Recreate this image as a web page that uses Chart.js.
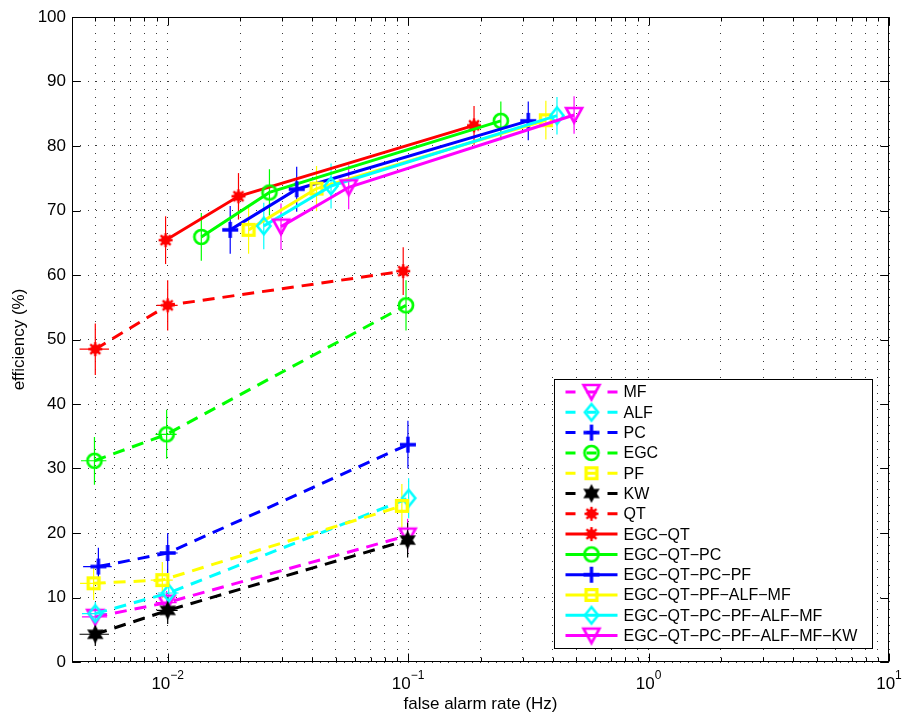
<!DOCTYPE html>
<html><head><meta charset="utf-8">
<script src="https://cdn.jsdelivr.net/npm/chart.js@4"></script>
<style>html,body{margin:0;padding:0;background:#fff}</style>
</head><body>
<canvas id="c" width="902" height="713"></canvas>
<script>
const FONT = '"Liberation Sans", Arial, Helvetica, sans-serif';

// ---------- data ----------
const seriesNames = ['MF','ALF','PC','EGC','PF','KW','QT',
  'EGC\u2212QT','EGC\u2212QT\u2212PC','EGC\u2212QT\u2212PC\u2212PF','EGC\u2212QT\u2212PF\u2212ALF\u2212MF',
  'EGC\u2212QT\u2212PC\u2212PF\u2212ALF\u2212MF','EGC\u2212QT\u2212PC\u2212PF\u2212ALF\u2212MF\u2212KW'];

const mfX  = [0.0050, 0.0099, 0.0995];
const mfY  = [7.0, 9.2, 19.6];
const mfErr = [1.6, 1.8, 2.6];
const mfXErr = [0.0006, 0.001, 0];

const alfX = [0.0050, 0.0101, 0.1005];
const alfY = [7.5, 10.7, 25.4];
const alfErr = [1.8, 2.0, 3.1];
const alfXErr = [0.0006, 0.001, 0];

const pcX  = [0.00515, 0.0100, 0.0998];
const pcY  = [14.8, 16.9, 33.7];
const pcErr = [2.9, 3.1, 3.7];
const pcXErr = [0.0007, 0.001, 0];

const egcX = [0.00496, 0.0099, 0.0980];
const egcY = [31.2, 35.3, 55.3];
const egcErr = [3.7, 3.8, 3.9];
const egcXErr = [0.0006, 0.001, 0];

const pfX  = [0.00492, 0.0095, 0.0942];
const pfY  = [12.2, 12.7, 24.2];
const pfErr = [2.6, 2.8, 3.4];
const pfXErr = [0.0006, 0.001, 0];

const kwX  = [0.0050, 0.0100, 0.0995];
const kwY  = [4.3, 8.0, 18.9];
const kwErr = [1.8, 2.1, 2.7];
const kwXErr = [0.0007, 0.001, 0];

const qtX  = [0.0050, 0.0100, 0.0954];
const qtY  = [48.5, 55.3, 60.6];
const qtErr = [4.0, 3.9, 3.7];
const qtXErr = [0.0007, 0.001, 0];

const egcQtX = [0.0098, 0.0197, 0.188];
const egcQtY = [65.4, 72.2, 83.2];
const egcQtErr = [3.7, 3.6, 3.0];

const egcQtPcX = [0.0138, 0.0265, 0.243];
const egcQtPcY = [65.9, 72.8, 83.9];
const egcQtPcErr = [3.7, 3.6, 3.0];

const egcQtPcPfX = [0.0182, 0.0344, 0.316];
const egcQtPcPfY = [67.0, 73.3, 83.9];
const egcQtPcPfErr = [3.7, 3.5, 3.0];

const egcQtPfAlfMfX = [0.0217, 0.0416, 0.374];
const egcQtPfAlfMfY = [67.0, 73.4, 84.0];
const egcQtPfAlfMfErr = [3.7, 3.5, 3.0];

const egcQtPcPfAlfMfX = [0.0251, 0.0478, 0.416];
const egcQtPcPfAlfMfY = [67.6, 73.8, 84.7];
const egcQtPcPfAlfMfErr = [3.6, 3.5, 2.9];

const egcQtPcPfAlfMfKwX = [0.0296, 0.0566, 0.490];
const egcQtPcPfAlfMfKwY = [67.5, 73.6, 84.8];
const egcQtPcPfAlfMfKwErr = [3.6, 3.4, 2.9];

const xMajorTicks = [0.01, 0.1, 1, 10];
const xTickExponents = ['\u22122', '\u22121', '0', '1'];
const yTicks = [0, 10, 20, 30, 40, 50, 60, 70, 80, 90, 100];
const xAxisTitle = 'false alarm rate (Hz)';
const yAxisTitle = 'efficiency (%)';

// ---------- styles ----------
function makeMarker(kind, color) {
  const s = 28, c = document.createElement('canvas');
  c.width = s; c.height = s;
  const g = c.getContext('2d');
  const m = s / 2;
  g.strokeStyle = color; g.fillStyle = color; g.lineJoin = 'miter'; g.lineCap = 'butt';
  g.beginPath();
  if (kind === 'triDown') {
    g.lineWidth = 2.6;
    g.moveTo(m - 8, m - 7); g.lineTo(m + 8, m - 7); g.lineTo(m, m + 7.5); g.closePath(); g.stroke();
  } else if (kind === 'diamond') {
    g.lineWidth = 2.6;
    g.moveTo(m, m - 8.2); g.lineTo(m + 6.6, m); g.lineTo(m, m + 8.2); g.lineTo(m - 6.6, m); g.closePath(); g.stroke();
  } else if (kind === 'plus') {
    g.lineWidth = 3.4;
    g.moveTo(m - 8, m); g.lineTo(m + 8, m); g.moveTo(m, m - 8); g.lineTo(m, m + 8); g.stroke();
  } else if (kind === 'circle') {
    g.lineWidth = 2.7;
    g.arc(m, m, 7, 0, Math.PI * 2); g.stroke();
  } else if (kind === 'square') {
    g.lineWidth = 3.4;
    g.rect(m - 5.4, m - 5.4, 10.8, 10.8); g.stroke();
  } else if (kind === 'hexagram') {
    const R = 9.5, r = 5.2;
    for (let k = 0; k < 12; k++) {
      const a = -Math.PI / 2 + k * Math.PI / 6;
      const rr = (k % 2 === 0) ? R : r;
      const px = m + rr * Math.cos(a), py = m + rr * Math.sin(a);
      if (k === 0) g.moveTo(px, py); else g.lineTo(px, py);
    }
    g.closePath(); g.fill();
  } else if (kind === 'asterisk') {
    g.lineWidth = 2.4;
    for (let k = 0; k < 8; k++) {
      const a = k * Math.PI / 4;
      g.moveTo(m, m); g.lineTo(m + 7 * Math.cos(a), m + 7 * Math.sin(a));
    }
    g.stroke();
    g.beginPath(); g.arc(m, m, 4.8, 0, Math.PI * 2); g.fill();
  }
  return c;
}

const MAG = '#ff00ff', CYA = '#00ffff', BLU = '#0000ff', GRN = '#00ff00', YEL = '#ffff00', BLK = '#000000', RED = '#ff0000';
const DASH = [12, 8];

const seriesDefs = [
  { x: mfX,  y: mfY,  err: mfErr,  xerr: mfXErr,  color: MAG, marker: 'triDown',  dashed: true },
  { x: alfX, y: alfY, err: alfErr, xerr: alfXErr, color: CYA, marker: 'diamond',  dashed: true },
  { x: pcX,  y: pcY,  err: pcErr,  xerr: pcXErr,  color: BLU, marker: 'plus',     dashed: true },
  { x: egcX, y: egcY, err: egcErr, xerr: egcXErr, color: GRN, marker: 'circle',   dashed: true },
  { x: pfX,  y: pfY,  err: pfErr,  xerr: pfXErr,  color: YEL, marker: 'square',   dashed: true },
  { x: kwX,  y: kwY,  err: kwErr,  xerr: kwXErr,  color: BLK, marker: 'hexagram', dashed: true },
  { x: qtX,  y: qtY,  err: qtErr,  xerr: qtXErr,  color: RED, marker: 'asterisk', dashed: true },
  { x: egcQtX, y: egcQtY, err: egcQtErr, color: RED, marker: 'asterisk', dashed: false },
  { x: egcQtPcX, y: egcQtPcY, err: egcQtPcErr, color: GRN, marker: 'circle', dashed: false },
  { x: egcQtPcPfX, y: egcQtPcPfY, err: egcQtPcPfErr, color: BLU, marker: 'plus', dashed: false },
  { x: egcQtPfAlfMfX, y: egcQtPfAlfMfY, err: egcQtPfAlfMfErr, color: YEL, marker: 'square', dashed: false },
  { x: egcQtPcPfAlfMfX, y: egcQtPcPfAlfMfY, err: egcQtPcPfAlfMfErr, color: CYA, marker: 'diamond', dashed: false },
  { x: egcQtPcPfAlfMfKwX, y: egcQtPcPfAlfMfKwY, err: egcQtPcPfAlfMfKwErr, color: MAG, marker: 'triDown', dashed: false }
];

const datasets = seriesDefs.map((s, i) => {
  const img = makeMarker(s.marker, s.color);
  return {
    label: seriesNames[i],
    data: s.x.map((xv, k) => ({ x: xv, y: s.y[k] })),
    showLine: true,
    borderColor: s.color,
    backgroundColor: s.color,
    borderWidth: 3,
    borderDash: s.dashed ? DASH : [],
    pointStyle: img,
    pointRadius: 8,
    pointHoverRadius: 8,
    order: seriesDefs.length - i,
    _err: s.err, _xerr: s.xerr || null, _img: img, _dashed: s.dashed
  };
});

// x grid positions (1..9 x each decade within the axis range)
const xGridValues = [];
for (let e = -3; e <= 1; e++) for (let k = 1; k <= 9; k++) {
  const v = +(k * Math.pow(10, e)).toPrecision(3);
  if (v >= 0.004 && v <= 10) xGridValues.push(v);
}

const errorBarPlugin = {
  id: 'errbars',
  beforeDatasetsDraw(chart) {
    const ctx = chart.ctx, xs = chart.scales.x, ys = chart.scales.y;
    ctx.save();
    ctx.lineWidth = 1.2;
    chart.data.datasets.forEach(ds => {
      ctx.strokeStyle = ds.borderColor;
      ds.data.forEach((p, k) => {
        const px = xs.getPixelForValue(p.x), py = ys.getPixelForValue(p.y);
        const e = ds._err[k];
        ctx.beginPath();
        ctx.moveTo(px, ys.getPixelForValue(p.y + e));
        ctx.lineTo(px, ys.getPixelForValue(p.y - e));
        if (ds._xerr && ds._xerr[k] > 0) {
          ctx.moveTo(xs.getPixelForValue(p.x - ds._xerr[k]), py);
          ctx.lineTo(xs.getPixelForValue(p.x + ds._xerr[k]), py);
        }
        ctx.stroke();
      });
    });
    ctx.restore();
  }
};

const decorPlugin = {
  id: 'decor',
  afterDraw(chart) {
    const ctx = chart.ctx, a = chart.chartArea, xs = chart.scales.x, ys = chart.scales.y;
    ctx.save();
    // axes box
    ctx.strokeStyle = '#000'; ctx.lineWidth = 1;
    const L = Math.round(a.left) + 0.5, R = Math.round(a.right) - 0.5, T = Math.round(a.top) + 0.5, B = Math.round(a.bottom) - 0.5;
    ctx.strokeRect(L, T, R - L, B - T);
    // inner ticks
    ctx.beginPath();
    yTicks.forEach(v => {
      const y = Math.round(ys.getPixelForValue(v)) + 0.5;
      ctx.moveTo(L, y); ctx.lineTo(L + 8, y);
      ctx.moveTo(R, y); ctx.lineTo(R - 8, y);
    });
    xGridValues.forEach(v => {
      const x = Math.round(xs.getPixelForValue(v)) + 0.5;
      const len = xMajorTicks.includes(v) ? 8 : 4;
      ctx.moveTo(x, B); ctx.lineTo(x, B - len);
      ctx.moveTo(x, T); ctx.lineTo(x, T + len);
    });
    ctx.stroke();
    // x tick labels 10^n
    ctx.fillStyle = '#000';
    ctx.textBaseline = 'alphabetic';
    ctx.textAlign = 'left';
    xMajorTicks.forEach((v, i) => {
      const px = xs.getPixelForValue(v);
      ctx.font = '17px ' + FONT;
      const w1 = ctx.measureText('10').width;
      ctx.font = '12px ' + FONT;
      const w2 = ctx.measureText(xTickExponents[i]).width;
      const x0 = px - (w1 + w2) / 2;
      ctx.font = '17px ' + FONT;
      ctx.fillText('10', x0, a.bottom + 27);
      ctx.font = '12px ' + FONT;
      ctx.fillText(xTickExponents[i], x0 + w1, a.bottom + 17);
    });
    // axis titles
    ctx.font = '17px ' + FONT;
    ctx.textAlign = 'center';
    ctx.fillText(xAxisTitle, (a.left + a.right) / 2, a.bottom + 47);
    ctx.save();
    ctx.translate(24, (a.top + a.bottom) / 2);
    ctx.rotate(-Math.PI / 2);
    ctx.textBaseline = 'alphabetic';
    ctx.fillText(yAxisTitle, 0, 0);
    ctx.restore();

    // legend
    const lw = 318, lh = 269;
    const lx = Math.round(a.right - 17 - lw) + 0.5, ly = Math.round(a.bottom - 14 - lh) + 0.5;
    ctx.fillStyle = '#fff';
    ctx.fillRect(lx, ly, lw, lh);
    ctx.strokeStyle = '#000'; ctx.lineWidth = 1;
    ctx.strokeRect(lx, ly, lw, lh);
    const sx0 = lx + 11, sx1 = lx + 63, smid = (sx0 + sx1) / 2;
    chart.data.datasets.forEach((ds, i) => {
      const y = ly + 12.5 + i * 20.3;
      ctx.strokeStyle = ds.borderColor; ctx.lineWidth = 3;
      ctx.beginPath();
      if (ds._dashed) {
        ctx.moveTo(sx0, y); ctx.lineTo(sx0 + 10, y);
        ctx.moveTo(smid - 5, y); ctx.lineTo(smid + 5, y);
        ctx.moveTo(sx1 - 10, y); ctx.lineTo(sx1, y);
      } else {
        ctx.moveTo(sx0, y); ctx.lineTo(sx1, y);
      }
      ctx.stroke();
      ctx.drawImage(ds._img, smid - ds._img.width / 2, y - ds._img.height / 2);
      ctx.fillStyle = '#000';
      ctx.font = '16px ' + FONT;
      ctx.textAlign = 'left'; ctx.textBaseline = 'middle';
      ctx.fillText(ds.label, lx + 69, y + 1);
    });
    ctx.restore();
  }
};

new Chart(document.getElementById('c'), {
  type: 'scatter',
  data: { datasets },
  options: {
    responsive: false,
    animation: false,
    devicePixelRatio: 1,
    layout: { padding: { left: 0, right: 13, top: 17, bottom: 0 } },
    plugins: { legend: { display: false }, tooltip: { enabled: false } },
    scales: {
      x: {
        type: 'logarithmic', min: 0.004, max: 10,
        afterBuildTicks: s => { s.ticks = xGridValues.map(v => ({ value: v })); },
        afterFit: s => { s.height = 51; },
        ticks: { display: false, autoSkip: false },
        grid: { color: '#3a3a3a', lineWidth: 1, drawTicks: false },
        border: { display: false, dash: [1, 7] }
      },
      y: {
        type: 'linear', min: 0, max: 100,
        afterBuildTicks: s => { s.ticks = yTicks.map(v => ({ value: v })); },
        afterFit: s => { s.width = 72; },
        ticks: { color: '#000', font: { size: 17, family: FONT }, padding: 6, autoSkip: false },
        grid: { color: '#3a3a3a', lineWidth: 1, drawTicks: false },
        border: { display: false, dash: [1, 7] }
      }
    }
  },
  plugins: [errorBarPlugin, decorPlugin]
});
</script>
</body></html>
